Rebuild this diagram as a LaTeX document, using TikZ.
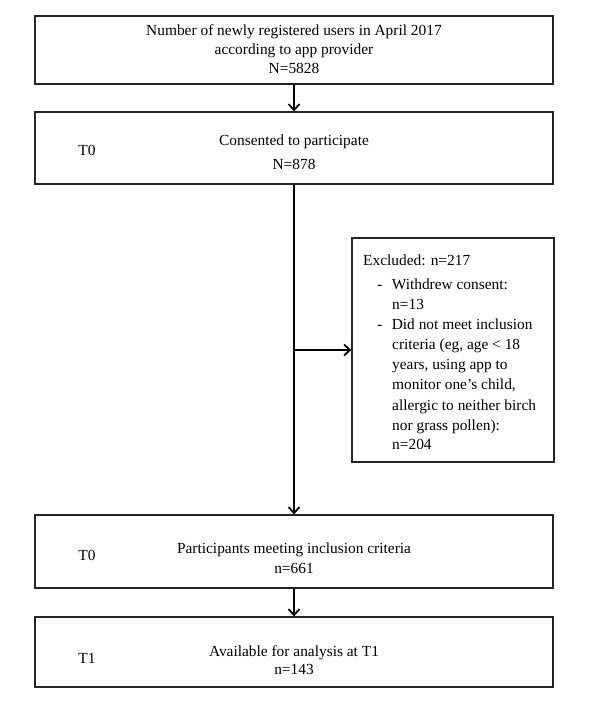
\documentclass[tikz,border=0pt]{standalone}
\usepackage{fontspec}
\setmainfont{Liberation Serif}
\usetikzlibrary{arrows.meta}
\begin{document}
\begin{tikzpicture}[x=1pt,y=-1pt,
  box/.style={draw=black!85, line width=1.3pt, rectangle, inner sep=0pt, minimum width=518pt},
  txt/.style={inner sep=0pt, align=center, font=\fontsize{15.4}{20}\selectfont},
  arr/.style={line width=1.8pt, -{Straight Barb[length=6pt,width=11pt,line width=1.8pt]}},
  ln/.style={line width=1.8pt}]
\useasboundingbox (0,0) rectangle (590,708);
% boxes
\node[box, minimum height=68pt] (b1) at (294,50) {};
\node[box, minimum height=72pt] (b2) at (294,148) {};
\node[box, minimum height=73pt] (b3) at (294,551.5) {};
\node[box, minimum height=70pt] (b4) at (294,652) {};
\node[box, minimum width=202pt, minimum height=224pt] (ex) at (453,350) {};
% texts
\node[txt, font=\fontsize{15.4}{19}\selectfont] (t1) at (294,49) {Number of newly registered users in April 2017\\according to app provider\\N=5828};
\node[txt] (t2) at (294,152) {Consented to participate\\[4pt]N=878};
\node[txt] (t3) at (294,558) {Participants meeting inclusion criteria\\n=661};
\node[txt] (t4) at (294,660) {Available for analysis at T1\\[-2pt]n=143};
\node[txt] (l2) at (87,150) {T0};
\node[txt] (l3) at (87,555) {T0};
\node[txt] (l4) at (87,658) {T1};
\node[txt, align=left, anchor=north west] (et) at (363,255) {Excluded: n=217\\[4pt]
\hspace*{14pt}-\hspace{9.5pt}Withdrew consent:\\
\hspace*{29pt}n=13\\
\hspace*{14pt}-\hspace{9.5pt}Did not meet inclusion\\
\hspace*{29pt}criteria (eg, age < 18\\
\hspace*{29pt}years, using app to\\
\hspace*{29pt}monitor one’s child,\\[1pt]
\hspace*{29pt}allergic to neither birch\\
\hspace*{29pt}nor grass pollen):\\[-1pt]
\hspace*{29pt}n=204};
% connectors
\coordinate (br) at (b2.south |- ex.west);
\draw[arr] (b1.south) -- (b2.north);
\draw[arr] (b2.south) -- (b3.north);
\draw[arr] (br) -- (ex.west);
\draw[arr] (b3.south) -- (b4.north);
\end{tikzpicture}
\end{document}
